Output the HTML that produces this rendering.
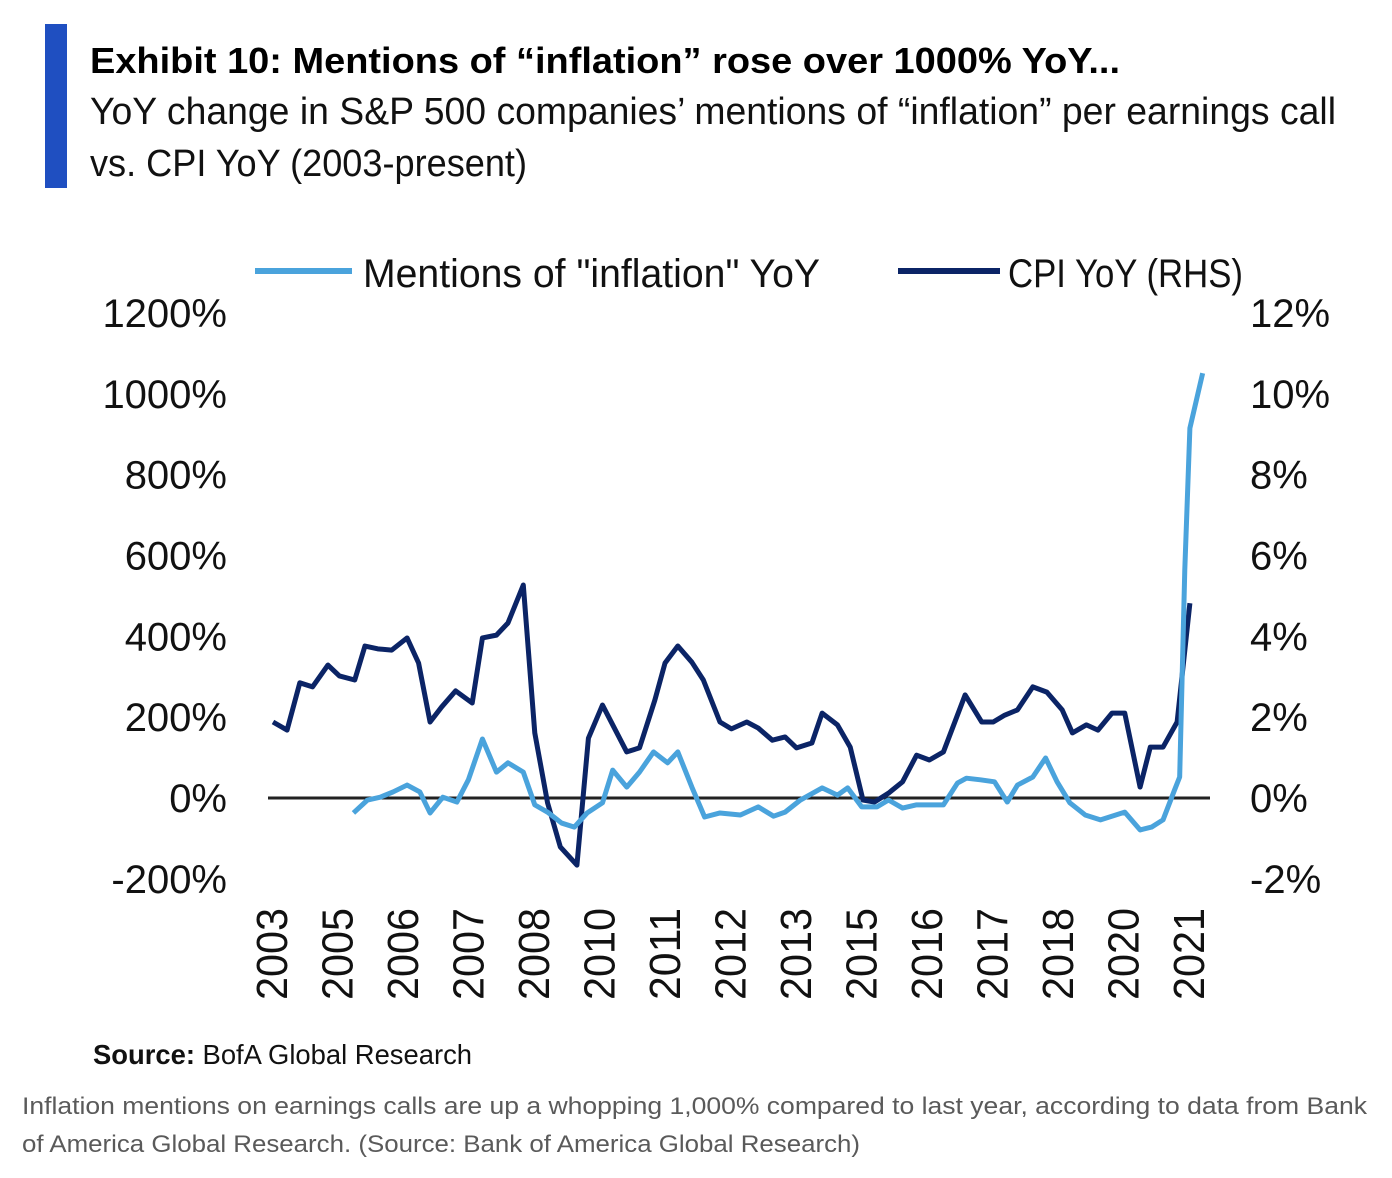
<!DOCTYPE html>
<html><head><meta charset="utf-8">
<style>
html,body{margin:0;padding:0;background:#fff;}
svg{display:block;}
text{font-family:"Liberation Sans",sans-serif;}
</style></head>
<body>
<svg id="chart" width="1392" height="1178" viewBox="0 0 1392 1178" xmlns="http://www.w3.org/2000/svg">
<rect x="45" y="24" width="22" height="164" fill="#1f4fc1"/>
<text x="90" y="73" font-size="36" font-weight="bold" fill="#000" textLength="1030" lengthAdjust="spacingAndGlyphs">Exhibit 10: Mentions of “inflation” rose over 1000% YoY...</text>
<text x="90" y="124" font-size="38" fill="#111" textLength="1246" lengthAdjust="spacingAndGlyphs">YoY change in S&amp;P 500 companies’ mentions of “inflation” per earnings call</text>
<text x="90" y="176" font-size="38" fill="#111" textLength="437" lengthAdjust="spacingAndGlyphs">vs. CPI YoY (2003-present)</text>
<g>
<line x1="255" y1="271" x2="352" y2="271" stroke="#4aa3dc" stroke-width="6"/>
<text x="363" y="287" font-size="40" fill="#111" textLength="457" lengthAdjust="spacingAndGlyphs">Mentions of "inflation" YoY</text>
<line x1="898" y1="271" x2="1000" y2="271" stroke="#0b2466" stroke-width="6"/>
<text x="1008" y="287" font-size="40" fill="#111" textLength="235" lengthAdjust="spacingAndGlyphs">CPI YoY (RHS)</text>
</g>
<g id="axes"></g>
<g id="plot"></g>
<text x="93" y="1064" font-size="28" fill="#111" textLength="379" lengthAdjust="spacingAndGlyphs"><tspan font-weight="bold">Source:</tspan> BofA Global Research</text>
<text x="22" y="1114" font-size="24" fill="#5a5a5a" textLength="1345" lengthAdjust="spacingAndGlyphs">Inflation mentions on earnings calls are up a whopping 1,000% compared to last year, according to data from Bank</text>
<text x="22" y="1152" font-size="24" fill="#5a5a5a" textLength="838" lengthAdjust="spacingAndGlyphs">of America Global Research. (Source: Bank of America Global Research)</text>
</svg>
<script>
const leftTicks = [-200,0,200,400,600,800,1000,1200];
const rightTicks = [-2,0,2,4,6,8,10,12];
const xLabels = ["2003","2005","2006","2007","2008","2010","2011","2012","2013","2015","2016","2017","2018","2020","2021"];
// quarter index since 2003Q1
const cpiT = [0,1.1,2.1,3.1,4.3,5.2,6.4,7.2,8.2,9.3,10.5,11.4,12.3,13.2,14.3,15.6,16.4,17.5,18.4,19.6,20.5,21.5,22.5,23.8,24.7,25.8,27.7,28.7,29.9,30.7,31.7,32.8,33.7,35.0,35.9,37.1,38.0,39.1,40.1,41.0,42.2,43.0,44.2,45.2,46.2,47.1,48.2,49.3,50.4,51.4,52.5,54.2,55.5,56.4,57.3,58.3,59.5,60.6,61.8,62.6,63.7,64.6,65.7,66.7,67.9,68.7,69.7,70.8,71.8];
const cpiV = [1.88,1.68,2.85,2.75,3.29,3.02,2.92,3.76,3.69,3.66,3.96,3.34,1.88,2.25,2.65,2.35,3.96,4.03,4.33,5.27,1.61,-0.12,-1.21,-1.66,1.48,2.30,1.14,1.24,2.42,3.34,3.76,3.36,2.92,1.88,1.71,1.88,1.73,1.43,1.51,1.24,1.36,2.10,1.81,1.26,-0.05,-0.10,0.12,0.40,1.06,0.94,1.14,2.55,1.88,1.88,2.05,2.18,2.75,2.62,2.18,1.61,1.81,1.68,2.10,2.10,0.27,1.26,1.26,1.88,4.82];
const menT = [6.3,7.4,8.4,9.4,10.5,11.5,12.3,13.3,14.4,15.3,16.4,17.5,18.4,19.6,20.5,21.5,22.6,23.6,24.6,25.8,26.6,27.7,28.7,29.8,30.9,31.7,32.8,33.8,35.0,36.6,38.0,39.2,40.1,41.3,43.0,44.2,45.0,46.1,47.3,48.2,49.3,50.4,52.5,53.6,54.3,55.4,56.5,57.5,58.3,59.5,60.5,61.4,62.4,63.6,64.8,66.7,67.9,68.8,69.7,70.6,71.0,71.4,71.8,72.8];
const menV = [-37,-5,2,15,32,15,-37,2,-10,45,146,64,87,64,-17,-35,-62,-72,-37,-12,69,27,64,114,87,114,27,-47,-37,-42,-22,-45,-35,-5,25,7,25,-22,-22,-5,-25,-17,-17,37,49,45,40,-10,32,52,99,40,-12,-42,-54,-35,-79,-72,-54,20,52,564,915,1051];

const NS="http://www.w3.org/2000/svg";
const X0=273, DX=12.77, Y0=798, PXL=485/1200, PXR=485/12;
const xs=t=>X0+t*DX, yl=v=>Y0-v*PXL, yr=v=>Y0-v*PXR;
function mk(tag,attrs,parent){const e=document.createElementNS(NS,tag);for(const k in attrs)e.setAttribute(k,attrs[k]);parent.appendChild(e);return e;}
const axes=document.getElementById('axes'), plot=document.getElementById('plot');
leftTicks.forEach(v=>{const t=mk('text',{x:227,y:yl(v)+14,'font-size':40,'text-anchor':'end',fill:'#111'},axes);


t.textContent=v+'%';});
rightTicks.forEach(v=>{const t=mk('text',{x:1250,y:yr(v)+14,'font-size':40,fill:'#111'},axes);


t.textContent=v+'%';});
xLabels.forEach((s,i)=>{const cx=272+i*65.5;const t=mk('text',{x:0,y:0,'font-size':44,'text-anchor':'end',fill:'#111',transform:`translate(${cx+15},908) rotate(-90)`,textLength:92,lengthAdjust:'spacingAndGlyphs'},axes);


t.textContent=s;});
const zl=mk('line',{x1:268,y1:Y0,x2:1210,y2:Y0,stroke:'#222','stroke-width':3},plot);


const cp=mk('polyline',{points:cpiT.map((t,i)=>xs(t)+','+yr(cpiV[i])).join(' '),fill:'none',stroke:'#0b2466','stroke-width':5,'stroke-linejoin':'round'},plot);


const mp=mk('polyline',{points:menT.map((t,i)=>xs(t)+','+yl(menV[i])).join(' '),fill:'none',stroke:'#4aa3dc','stroke-width':5,'stroke-linejoin':'round'},plot);


</script>
</body></html>
